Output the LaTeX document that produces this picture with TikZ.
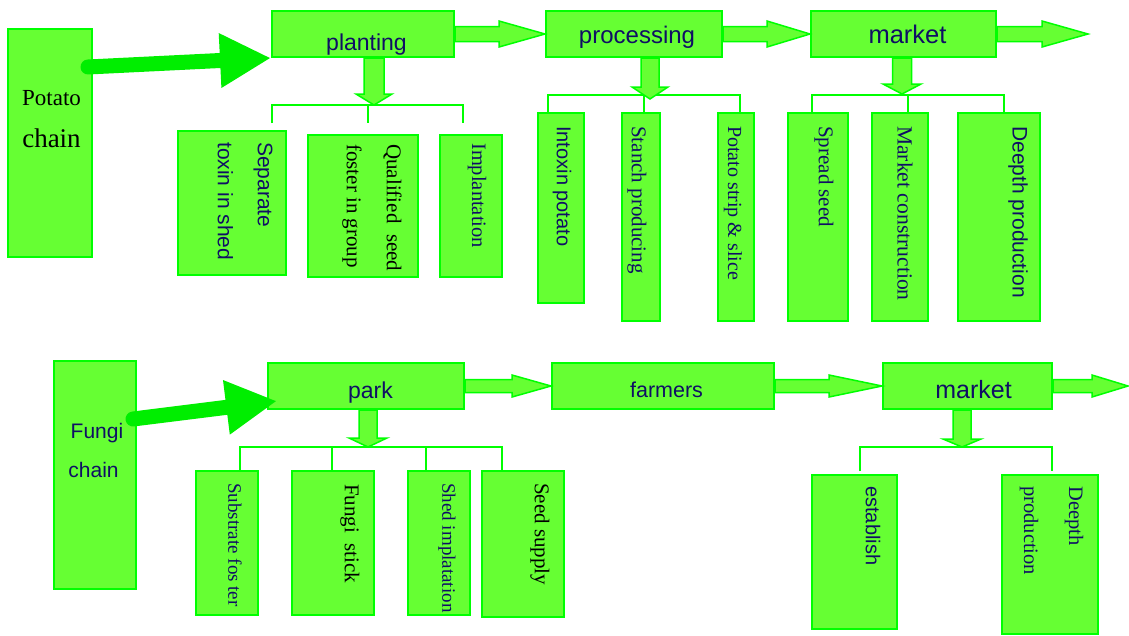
\documentclass[tikz,border=0pt]{standalone}
\usepackage{fontspec}
\setmainfont{Liberation Serif}
\setsansfont{Liberation Sans}
\usetikzlibrary{calc,arrows.meta}

\definecolor{boxfill}{RGB}{102,255,51}
\definecolor{boxline}{RGB}{0,255,0}
\definecolor{pushgreen}{RGB}{0,238,0}
\definecolor{navy}{RGB}{15,15,100}

\tikzset{
  box/.style={draw=boxline, fill=boxfill, line width=2pt, inner sep=0pt},
  flow/.style={draw=boxline, fill=boxfill, line width=1.5pt, line join=miter},
  bracket/.style={draw=boxline, line width=1.6pt},
  push/.style={draw=pushgreen, line width=15pt, line cap=round, -{Triangle[length=51pt,width=51pt]}},
  sanslabel/.style={inner sep=0pt, text=navy, font=\sffamily\fontsize{#1}{40}\selectfont},
  seriflabel/.style={inner sep=0pt, text=navy, font=\rmfamily\fontsize{#1}{40}\selectfont},
  vtext/.style={rotate=-90, anchor=west, align=left},
}

% block arrow to the right: from, tip, shaft half, head half, head length
\newcommand{\flowright}[5]{%
  \filldraw[flow] ($(#1)+(0,#3)$) -- ($(#2)+(-#5,#3)$) -- ($(#2)+(-#5,#4)$) -- (#2)
    -- ($(#2)+(-#5,-#4)$) -- ($(#2)+(-#5,-#3)$) -- ($(#1)+(0,-#3)$) -- cycle;}
% block arrow downwards: from, tip, shaft half, head half, head length
\newcommand{\flowdown}[5]{%
  \filldraw[flow] ($(#1)+(-#3,0)$) -- ($(#2)+(-#3,-#5)$) -- ($(#2)+(-#4,-#5)$) -- (#2)
    -- ($(#2)+(#4,-#5)$) -- ($(#2)+(#3,-#5)$) -- ($(#1)+(#3,0)$) -- cycle;}

\begin{document}
\begin{tikzpicture}[x=1pt, y=-1pt]
    \useasboundingbox (0,0) rectangle (1129,635);

    % potato chain
    \node [box, minimum width=84pt, minimum height=228pt] (potato) at (50,143) {};
    \node [box, minimum width=182pt, minimum height=46pt] (planting) at (363,34) {};
    \node [box, minimum width=176pt, minimum height=46pt] (processing) at (634,34) {};
    \node [box, minimum width=185pt, minimum height=46pt] (market) at (903.5,34) {};

    \node [box, minimum width=108pt, minimum height=144pt] (separate) at (232,203) {};
    \node [box, minimum width=110pt, minimum height=142pt] (qualified) at (363,206) {};
    \node [box, minimum width=62pt, minimum height=142pt] (implant) at (471,206) {};
    \node [box, minimum width=46pt, minimum height=190pt] (intoxin) at (561,208) {};
    \node [box, minimum width=38pt, minimum height=208pt] (stanch) at (641,217) {};
    \node [box, minimum width=36pt, minimum height=208pt] (strip) at (736,217) {};
    \node [box, minimum width=60pt, minimum height=208pt] (spread) at (818,217) {};
    \node [box, minimum width=56pt, minimum height=208pt] (construct) at (900,217) {};
    \node [box, minimum width=82pt, minimum height=208pt] (deepth) at (999,217) {};

    % fungi chain
    \node [box, minimum width=82pt, minimum height=228pt] (fungi) at (95,475) {};
    \node [box, minimum width=196pt, minimum height=46pt] (park) at (366,386) {};
    \node [box, minimum width=222pt, minimum height=46pt] (farmers) at (663,386) {};
    \node [box, minimum width=169pt, minimum height=46pt] (fmarket) at (967.5,386) {};

    \node [box, minimum width=62pt, minimum height=144pt] (substrate) at (227,543) {};
    \node [box, minimum width=82pt, minimum height=144pt] (stick) at (333,543) {};
    \node [box, minimum width=62pt, minimum height=144pt] (shed) at (439,543) {};
    \node [box, minimum width=82pt, minimum height=146pt] (supply) at (523,544) {};
    \node [box, minimum width=85pt, minimum height=154pt] (establish) at (854.5,552) {};
    \node [box, minimum width=96pt, minimum height=159pt] (fdeepth) at (1050,554.5) {};

    % hubs of the brackets and free ends
    \coordinate (planting-hub) at (374,105);
    \coordinate (processing-hub) at (650,99);
    \coordinate (market-hub) at (902,94);
    \coordinate (park-hub) at (368,447);
    \coordinate (fmarket-hub) at (962,447);
    \coordinate (market-end) at (1088,34);
    \coordinate (fmarket-end) at (1128,386);
    \coordinate (potato-out) at (88,67);
    \coordinate (fungi-out) at (133,419);
    \coordinate (park-in) at (277,401);

    % brackets
    \draw [bracket] (272,123) |- (463,105) -- (463,123);
    \draw [bracket] (368,105) -- (368,123);
    \draw [bracket] (548,113) |- (740,95) -- (740,113);
    \draw [bracket] (644,95) -- (644,113);
    \draw [bracket] (812,113) |- (1004,95) -- (1004,113);
    \draw [bracket] (908,95) -- (908,113);
    \draw [bracket] (240,470) |- (502,447) -- (502,470);
    \foreach \x in {332,426}
        \draw [bracket] (\x,447) -- (\x,470);
    \draw [bracket] (860,471) |- (1052,447) -- (1052,471);

    % block arrows
    \flowright{planting.east}{processing.west}{7.5}{13}{46}
    \flowright{processing.east}{market.west}{7.5}{13}{43}
    \flowright{market.east}{market-end}{7.5}{13}{46}
    \flowright{park.east}{farmers.west}{6.5}{11}{39}
    \flowright{farmers.east}{fmarket.west}{6.5}{11}{53}
    \flowright{fmarket.east}{fmarket-end}{6.5}{11}{36}

    \coordinate (planting-down) at (planting.south -| planting-hub);
    \coordinate (processing-down) at (processing.south -| processing-hub);
    \coordinate (market-down) at (market.south -| market-hub);
    \coordinate (park-down) at (park.south -| park-hub);
    \coordinate (fmarket-down) at (fmarket.south -| fmarket-hub);
    \flowdown{planting-down}{planting-hub}{10}{18}{11}
    \flowdown{processing-down}{processing-hub}{9}{18}{12}
    \flowdown{market-down}{market-hub}{9.5}{19}{10}
    \flowdown{park-down}{park-hub}{9}{19}{9}
    \flowdown{fmarket-down}{fmarket-hub}{9}{19}{8}

    % thick arrows out of the chains
    \draw [push] (potato-out) -- (planting.south west);
    \draw [push] (fungi-out) -- (park-in);

    % texts, row one
    \node [seriflabel=23, text=black, anchor=base] (tpotato) at (51.5,105) {Potato};
    \node [seriflabel=27, text=black, anchor=base] (tchain) at (51.5,147) {chain};
    \node [sanslabel=23, anchor=base] (tplanting) at (366.5,50) {planting};
    \node [sanslabel=24, anchor=base] (tprocessing) at (637,43) {processing};
    \node [sanslabel=25.5, anchor=base] (tmarket) at (907.5,43) {market};

    \node [sanslabel=21, vtext] (tseparate) at (245,142) {Separate\\toxin in shed};
    \node [seriflabel=21, text=black, vtext] (tqualified) at (372,144) {Qualified\ \ seed\\foster in group};
    \node [seriflabel=20.5, vtext] (timplant) at (477,143) {Implantation};
    \node [sanslabel=20, vtext] (tintoxin) at (562,126) {Intoxin potato};
    \node [seriflabel=21, vtext] (tstanch) at (637,126) {Stanch producing};
    \node [seriflabel=20, vtext] (tstrip) at (733,126) {Potato strip \& slice};
    \node [seriflabel=21, vtext] (tspread) at (824,126) {Spread seed};
    \node [seriflabel=21.6, vtext] (tconstruct) at (905,126) {Market construction};
    \node [sanslabel=21, vtext] (tdeepth) at (1018,126) {Deepth production};

    % texts, row two
    \node [sanslabel=21, anchor=base] (tfungi) at (97,438) {Fungi};
    \node [sanslabel=21, anchor=base] (tfchain) at (93.5,477) {chain};
    \node [sanslabel=23, anchor=base] (tpark) at (370.5,398) {park};
    \node [sanslabel=21.5, anchor=base] (tfarmers) at (666.5,397) {farmers};
    \node [sanslabel=25, anchor=base] (tfmarket) at (973.5,398) {market};

    \node [seriflabel=19, vtext] (tsubstrate) at (235,483) {Substrate fos ter};
    \node [seriflabel=21, text=black, vtext] (tstick) at (350,484) {Fungi\ \ stick};
    \node [seriflabel=19, vtext] (tshed) at (447,483) {Shed implatation};
    \node [seriflabel=21, text=black, vtext] (tsupply) at (540,483) {Seed supply};
    \node [sanslabel=20, vtext] (testablish) at (873,486) {establish};
    \node [seriflabel=20.5, vtext] (tfdeepth) at (1051.5,486) {Deepth\\[5pt]production};
\end{tikzpicture}
\end{document}
